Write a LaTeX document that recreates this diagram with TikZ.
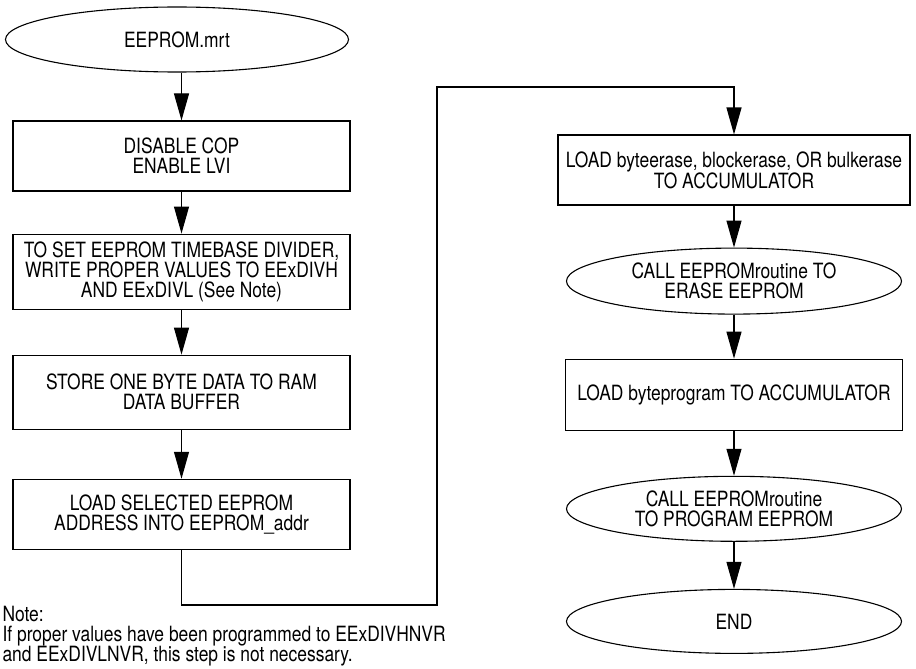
\documentclass[tikz,border=0pt]{standalone}
\usepackage{fontspec}
\setmainfont[FakeStretch=0.83]{TeX Gyre Heros}
\usepackage{tikz}
\usetikzlibrary{positioning, shapes.geometric, arrows.meta}

\begin{document}
\begin{tikzpicture}[x=1pt, y=1pt, line width=1.1pt,
    font=\fontsize{21}{20}\selectfont,
    stepbox/.style={draw, rectangle, align=center, inner sep=2pt, minimum width=337pt, minimum height=70pt},
    callbox/.style={draw, ellipse, align=center, inner sep=0pt, minimum width=335pt, minimum height=65pt},
    arr/.style={-{Triangle[length=27pt, width=15pt]}}]
      \useasboundingbox (0,0) rectangle (916,-669);
      % left column
      \node[callbox, minimum width=343pt] at (177,-39.5)
        (Start) {EEPROM.mrt};
      \node[stepbox] at (181.5,-156)
        (Cop) {DISABLE COP\\ENABLE LVI};
      \node[stepbox, minimum height=75pt, below=42pt of Cop]
        (Div) {TO SET EEPROM TIMEBASE DIVIDER,\\WRITE PROPER VALUES TO EExDIVH\\AND EExDIVL (See Note)};
      \node[stepbox, minimum height=74pt, below=45pt of Div]
        (Store) {STORE ONE BYTE DATA TO RAM\\DATA BUFFER};
      \node[stepbox, below=49pt of Store]
        (Addr) {LOAD SELECTED EEPROM\\ADDRESS INTO EEPROM\_addr};
      \node[anchor=north west, align=left, inner sep=2pt] at (0,-604)
        (Note) {Note:\\If proper values have been programmed to EExDIVHNVR\\and EExDIVLNVR, this step is not necessary.};
      % right column
      \node[stepbox, minimum width=352pt] at (734,-170)
        (Load) {LOAD byteerase, blockerase, OR bulkerase\\TO ACCUMULATOR};
      \node[callbox, minimum height=66pt, below=42pt of Load]
        (CallE) {CALL EEPROMroutine TO\\ERASE EEPROM};
      \node[stepbox, minimum height=71pt, below=44pt of CallE]
        (LoadP) {LOAD byteprogram TO ACCUMULATOR};
      \node[callbox, below=45pt of LoadP]
        (CallP) {CALL EEPROMroutine\\TO PROGRAM EEPROM};
      \node[callbox, minimum height=64pt, below=47pt of CallP]
        (Stop) {END};
      \coordinate (T1) at (437,-605);
      \coordinate (T2) at (437,-87);
      \draw[arr] (Cop.north |- Start.south) -- (Cop);
      \draw[arr] (Cop) -- (Div);
      \draw[arr] (Div) -- (Store);
      \draw[arr] (Store) -- (Addr);
      \draw[arr] (Addr.south) |- (T1) -- (T2) -| (Load.north);
      \draw[arr] (Load) -- (CallE);
      \draw[arr] (CallE) -- (LoadP);
      \draw[arr] (LoadP) -- (CallP);
      \draw[arr] (CallP) -- (Stop);
    \end{tikzpicture}
\end{document}
